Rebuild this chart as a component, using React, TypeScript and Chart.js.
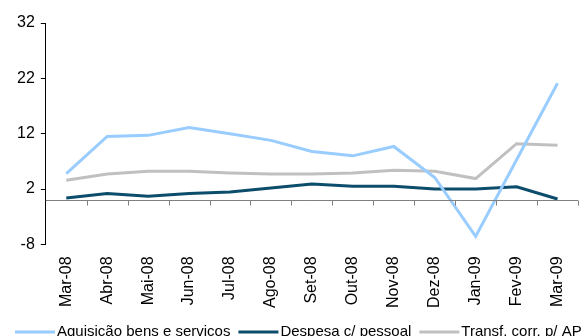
import React, { useEffect, useRef } from "react";
import { Chart, registerables } from "chart.js";

Chart.register(...registerables);

const categories = ["Mar-08", "Abr-08", "Mai-08", "Jun-08", "Jul-08", "Ago-08", "Set-08", "Out-08", "Nov-08", "Dez-08", "Jan-09", "Fev-09", "Mar-09"];
const aquisicao = [4.8, 11.5, 11.7, 13.1, 12.0, 10.8, 8.8, 8.0, 9.7, 4.1, -6.55, 7.3, 21.1];
const despesa = [0.4, 1.2, 0.7, 1.2, 1.45, 2.2, 2.9, 2.5, 2.5, 2.0, 2.0, 2.4, 0.2];
const transf = [3.6, 4.7, 5.2, 5.2, 4.9, 4.7, 4.7, 4.9, 5.4, 5.2, 3.9, 10.2, 9.9];
const seriesNames = ["Aquisição bens e serviços", "Despesa c/ pessoal", "Transf. corr. p/ AP"];
const seriesColors = ["#99CCFF", "#0C4D6B", "#C0C0C0"];
const yMin = -8;
const yMax = 32;
const yStep = 10;

const FONT = "'Liberation Sans', Arial, sans-serif";

const zeroLinePlugin = {
  id: "zeroLine",
  afterDatasetsDraw(chart: any) {
    const { ctx, chartArea, scales } = chart;
    const y = Math.round(scales.y.getPixelForValue(0)) + 0.5;
    ctx.save();
    ctx.strokeStyle = "#808080";
    ctx.lineWidth = 1;
    ctx.beginPath();
    ctx.moveTo(chartArea.left, y);
    ctx.lineTo(chartArea.right, y);
    const n = categories.length;
    const w = (chartArea.right - chartArea.left) / n;
    for (let i = 0; i < n; i++) {
      const x = Math.round(scales.x.getPixelForValue(i) + w / 2) + 0.5;
      ctx.moveTo(x, y);
      ctx.lineTo(x, y + 5);
    }
    ctx.stroke();
    ctx.restore();
  },
};

const legendPlugin = {
  id: "customLegend",
  afterDraw(chart: any) {
    const { ctx } = chart;
    ctx.save();
    ctx.font = `15px ${FONT}`;
    ctx.textBaseline = "middle";
    ctx.fillStyle = "#000";
    let x = 15;
    const y = 332;
    chart.data.datasets.forEach((ds: any) => {
      ctx.strokeStyle = ds.borderColor;
      ctx.lineWidth = 3;
      ctx.beginPath();
      ctx.moveTo(x, y);
      ctx.lineTo(x + 40, y);
      ctx.stroke();
      ctx.fillText(ds.label, x + 42, y);
      x += 42 + ctx.measureText(ds.label).width + 8;
    });
    ctx.restore();
  },
};

export default function App() {
  const ref = useRef<HTMLCanvasElement | null>(null);
  useEffect(() => {
    if (!ref.current) return;
    const chart = new Chart(ref.current, {
      type: "line",
      data: {
        labels: categories,
        datasets: [aquisicao, despesa, transf].map((d, i) => ({
          label: seriesNames[i],
          data: d,
          borderColor: seriesColors[i],
          backgroundColor: seriesColors[i],
          borderWidth: 3,
          pointRadius: 0,
          tension: 0,
        })),
      },
      options: {
        animation: false,
        responsive: false,
        layout: { padding: { top: 23, right: 9, bottom: 24, left: 11 } },
        plugins: { legend: { display: false }, tooltip: { enabled: false } },
        scales: {
          x: {
            offset: true,
            grid: { display: false },
            border: { display: false },
            ticks: {
              color: "#000",
              font: { family: FONT, size: 16 },
              minRotation: 90,
              maxRotation: 90,
              padding: 4,
              autoSkip: false,
            },
          },
          y: {
            min: yMin,
            max: yMax,
            ticks: { stepSize: yStep, color: "#000", font: { family: FONT, size: 16 }, padding: 6 },
            grid: { display: true, drawOnChartArea: false, drawTicks: true, tickLength: 5, color: "#000" },
            border: { display: true, color: "#000", width: 1 },
          },
        },
      },
      plugins: [zeroLinePlugin, legendPlugin],
    });
    return () => chart.destroy();
  }, []);
  return (
    <div style={{ position: "absolute", left: 0, top: 0, width: 587, height: 336, background: "#fff" }}>
      <canvas ref={ref} width={587} height={336} />
    </div>
  );
}
